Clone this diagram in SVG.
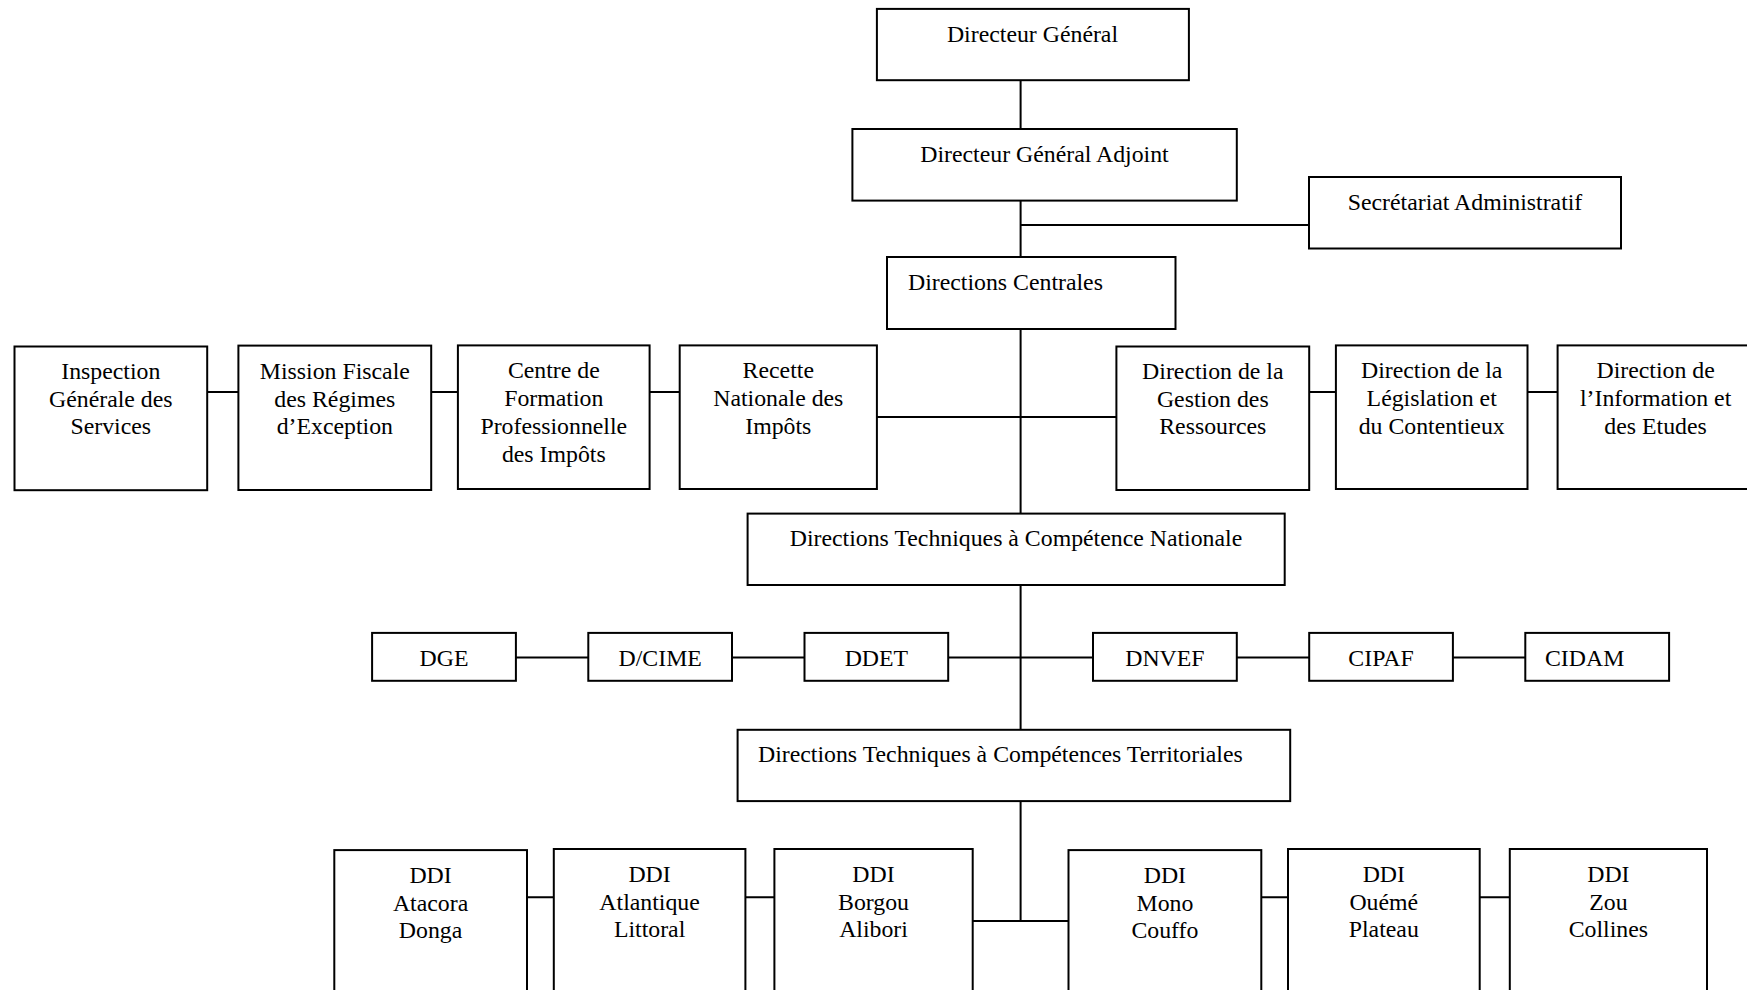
<svg xmlns="http://www.w3.org/2000/svg" width="1747" height="990" viewBox="0 0 1747 990">
<style>
.box{fill:#fff;stroke:#000;stroke-width:2}
.ln{fill:none;stroke:#000;stroke-width:2}
text{font-family:"Liberation Serif","Times New Roman",serif;font-size:23.8px;fill:#000}
.c{text-anchor:middle}
</style>
<rect width="1747" height="990" fill="#fff"/>
<g id="connectors">
<path class="ln" d="M1020.6 80V129M1020.6 201V257M1020.6 225H1309M1020.6 329V514M1020.6 585V730M1020.6 801V921"/>
<path class="ln" d="M876.9 417H1116.4M948.2 657.4H1093M972.7 921H1068.5"/>
<path class="ln" d="M207.2 392H238.4M431.2 392H457.9M649.6 392H679.7M1309.2 392H1335.9M1527.5 392H1557.6"/>
<path class="ln" d="M515.9 657.4H588.3M732 657.4H804.5M1236.8 657.4H1309.2M1452.9 657.4H1525.3"/>
<path class="ln" d="M527 897.3H553.8M745.4 897.3H774.4M1261.3 897.3H1288M1479.7 897.3H1509.8"/>
</g>
<g id="dg"><rect class="box" x="876.9" y="8.9" width="312" height="71.3"/><text class="c" x="1032.5" y="42">Directeur Général</text></g>
<g id="dga"><rect class="box" x="852.4" y="129" width="384.4" height="71.6"/><text class="c" x="1044.5" y="162">Directeur Général Adjoint</text></g>
<g id="secretariat"><rect class="box" x="1309" y="177" width="312" height="71.5"/><text class="c" x="1465" y="210">Secrétariat Administratif</text></g>
<g id="dc"><rect class="box" x="887" y="257" width="288.5" height="72"/><text x="908" y="290">Directions Centrales</text></g>
<g id="igs"><rect class="box" x="14.5" y="346.5" width="192.7" height="143.7"/><text class="c" x="110.8" y="378.8">Inspection</text><text class="c" x="110.8" y="406.6">Générale des</text><text class="c" x="110.8" y="434.4">Services</text></g>
<g id="mfre"><rect class="box" x="238.4" y="345.6" width="192.8" height="144.4"/><text class="c" x="334.8" y="378.8">Mission Fiscale</text><text class="c" x="334.8" y="406.6">des Régimes</text><text class="c" x="334.8" y="434.4">d’Exception</text></g>
<g id="cfpi"><rect class="box" x="457.9" y="345.4" width="191.7" height="143.6"/><text class="c" x="553.8" y="377.8">Centre de</text><text class="c" x="553.8" y="405.7">Formation</text><text class="c" x="553.8" y="433.6">Professionnelle</text><text class="c" x="553.8" y="461.5">des Impôts</text></g>
<g id="rni"><rect class="box" x="679.7" y="345.4" width="197.2" height="143.6"/><text class="c" x="778.3" y="377.8">Recette</text><text class="c" x="778.3" y="405.7">Nationale des</text><text class="c" x="778.3" y="433.6">Impôts</text></g>
<g id="dgr"><rect class="box" x="1116.4" y="346.5" width="192.8" height="143.5"/><text class="c" x="1212.8" y="378.8">Direction de la</text><text class="c" x="1212.8" y="406.6">Gestion des</text><text class="c" x="1212.8" y="434.4">Ressources</text></g>
<g id="dlc"><rect class="box" x="1335.9" y="345.4" width="191.6" height="143.6"/><text class="c" x="1431.7" y="377.8">Direction de la</text><text class="c" x="1431.7" y="405.7">Législation et</text><text class="c" x="1431.7" y="433.6">du Contentieux</text></g>
<g id="die"><rect class="box" x="1557.6" y="345.4" width="196" height="143.6"/><text class="c" x="1655.6" y="377.8">Direction de</text><text class="c" x="1655.6" y="405.7">l’Information et</text><text class="c" x="1655.6" y="433.6">des Etudes</text></g>
<g id="dtcn"><rect class="box" x="747.6" y="513.6" width="537.1" height="71.4"/><text class="c" x="1016" y="546">Directions Techniques à Compétence Nationale</text></g>
<g id="dge"><rect class="box" x="372.1" y="632.9" width="143.8" height="47.9"/><text class="c" x="444" y="665.5">DGE</text></g>
<g id="dcime"><rect class="box" x="588.3" y="632.9" width="143.7" height="47.9"/><text class="c" x="660.2" y="665.5">D/CIME</text></g>
<g id="ddet"><rect class="box" x="804.5" y="632.9" width="143.7" height="47.9"/><text class="c" x="876.4" y="665.5">DDET</text></g>
<g id="dnvef"><rect class="box" x="1093" y="632.9" width="143.8" height="47.9"/><text class="c" x="1164.9" y="665.5">DNVEF</text></g>
<g id="cipaf"><rect class="box" x="1309.2" y="632.9" width="143.7" height="47.9"/><text class="c" x="1381" y="665.5">CIPAF</text></g>
<g id="cidam"><rect class="box" x="1525.3" y="632.9" width="143.8" height="47.9"/><text x="1545" y="665.5">CIDAM</text></g>
<g id="dtct"><rect class="box" x="737.6" y="729.8" width="552.6" height="71.3"/><text x="758" y="762">Directions Techniques à Compétences Territoriales</text></g>
<g id="ddi-atacora"><rect class="box" x="334.3" y="850.1" width="192.7" height="160"/><text class="c" x="430.6" y="883">DDI</text><text class="c" x="430.6" y="910.5">Atacora</text><text class="c" x="430.6" y="938">Donga</text></g>
<g id="ddi-atlantique"><rect class="box" x="553.8" y="849" width="191.6" height="160"/><text class="c" x="649.6" y="882">DDI</text><text class="c" x="649.6" y="909.5">Atlantique</text><text class="c" x="649.6" y="937">Littoral</text></g>
<g id="ddi-borgou"><rect class="box" x="774.4" y="849" width="198.3" height="160"/><text class="c" x="873.5" y="882">DDI</text><text class="c" x="873.5" y="909.5">Borgou</text><text class="c" x="873.5" y="937">Alibori</text></g>
<g id="ddi-mono"><rect class="box" x="1068.5" y="850.1" width="192.8" height="160"/><text class="c" x="1164.9" y="883">DDI</text><text class="c" x="1164.9" y="910.5">Mono</text><text class="c" x="1164.9" y="938">Couffo</text></g>
<g id="ddi-oueme"><rect class="box" x="1288" y="849" width="191.7" height="160"/><text class="c" x="1383.8" y="882">DDI</text><text class="c" x="1383.8" y="909.5">Ouémé</text><text class="c" x="1383.8" y="937">Plateau</text></g>
<g id="ddi-zou"><rect class="box" x="1509.8" y="849" width="197.2" height="160"/><text class="c" x="1608.4" y="882">DDI</text><text class="c" x="1608.4" y="909.5">Zou</text><text class="c" x="1608.4" y="937">Collines</text></g>
</svg>
